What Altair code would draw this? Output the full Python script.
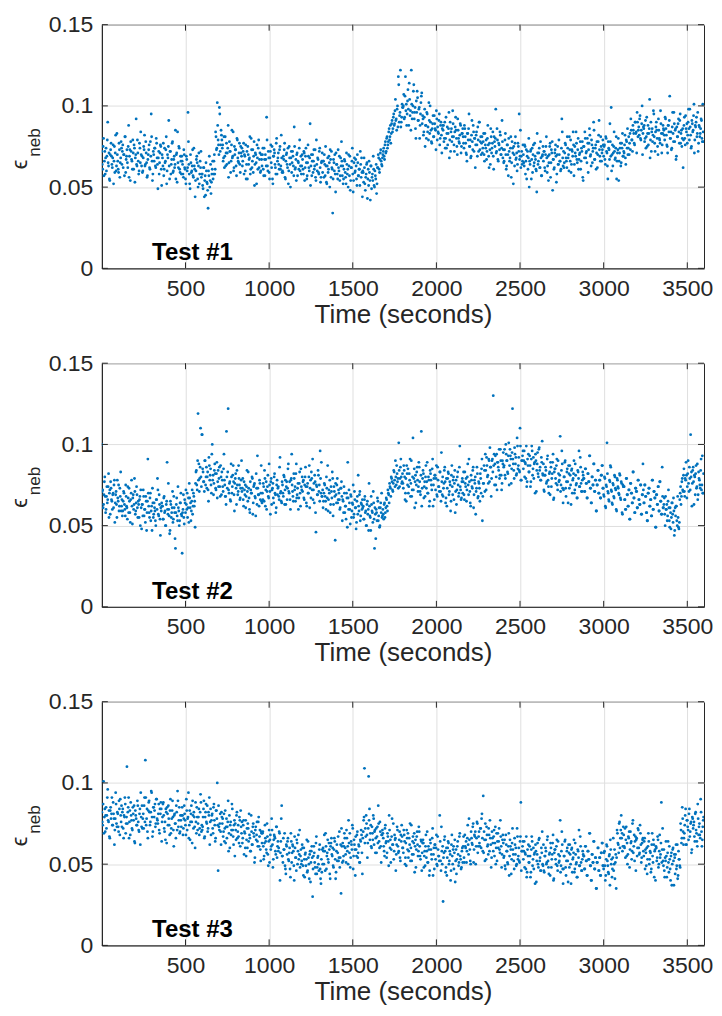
import altair as alt
import pandas as pd

# epsilon_neb, in units of 1e-3.
# "_a" lists: samples at t = 0, 5, 10, ... s ; "_b" lists: samples at t = 2.5, 7.5, ... s
# (each line covers 120 s)
test1_eps_milli_a = [
    72,61,80,66,58,74,69,90,63,55,70,77,64,68,52,75,71,60,83,66,59,73,65,78,
    64,76,70,57,81,67,73,62,88,69,54,72,66,79,61,74,68,92,63,71,58,77,65,70,
    69,60,75,82,64,71,56,67,73,62,78,95,66,58,70,74,63,80,68,49,72,65,76,61,
    70,63,57,74,66,81,60,68,91,55,72,64,77,59,67,62,85,70,53,65,75,61,69,58,
    66,58,73,62,55,69,60,96,64,52,70,59,63,57,74,61,54,67,65,50,71,58,62,56,
    58,49,62,54,45,60,52,37,57,50,64,53,61,55,66,58,84,73,102,79,70,95,76,82,
    74,66,81,69,63,77,71,88,65,72,59,76,68,84,62,70,73,57,79,66,71,64,75,69,
    63,72,58,69,76,64,55,70,67,81,61,73,66,59,78,64,70,52,68,74,62,71,60,67,
    70,61,74,57,67,93,63,72,59,68,76,62,55,69,73,64,58,80,66,71,61,75,63,68,
    60,69,73,56,66,71,62,52,75,64,68,59,72,63,87,61,67,70,57,65,74,60,69,63,
    67,58,71,62,74,55,65,69,60,89,63,57,70,66,61,73,54,64,68,59,72,62,56,66,
    59,66,70,57,63,52,68,61,65,73,56,62,34,67,60,58,71,64,55,62,69,57,63,66,
    63,55,67,59,52,64,61,70,57,48,62,66,58,54,68,60,63,51,65,57,61,72,56,59,
    60,53,62,48,58,65,55,51,59,42,63,56,54,61,50,57,64,52,62,68,59,71,66,63,
    70,74,67,78,72,81,76,84,79,88,83,91,86,95,89,104,92,98,87,113,94,122,90,101,
    99,107,93,118,101,95,110,88,104,97,122,92,100,113,96,86,103,109,91,98,80,95,106,89,
    92,84,98,88,80,95,87,102,83,90,78,86,94,81,89,85,97,79,84,91,76,88,82,86,
    85,78,90,80,74,87,83,96,79,72,86,81,89,76,84,93,80,70,85,78,82,88,75,83,
    81,74,86,77,70,83,79,95,75,68,82,78,88,72,80,76,84,69,79,90,73,81,77,71,
    78,70,83,74,67,80,76,62,73,86,71,77,69,81,75,98,72,79,66,76,84,70,74,78,
    73,66,79,70,63,76,57,72,68,81,65,74,52,70,77,67,71,64,75,95,69,62,72,66,
    70,63,75,66,55,72,68,50,64,73,67,59,76,65,69,61,47,71,66,74,62,68,57,70,
    66,72,60,75,68,63,54,70,77,65,71,48,67,62,73,69,58,75,64,70,66,61,92,68,
    72,65,77,68,62,74,70,81,66,59,73,69,76,64,71,84,67,73,61,70,78,66,72,56,
    75,68,80,71,65,77,73,86,69,63,76,72,90,67,74,61,78,70,82,73,66,75,71,79,
    69,76,64,80,71,55,74,67,78,99,70,63,75,72,68,81,66,73,54,71,77,65,74,69,
    72,76,68,79,74,70,81,77,73,85,79,88,83,76,90,84,96,81,87,92,80,85,100,83,
    86,78,91,81,75,88,83,104,79,72,86,82,95,77,84,90,80,70,85,79,97,83,76,88,
    85,79,92,82,75,88,84,106,80,73,87,83,96,78,86,69,81,89,84,91,77,85,80,62,
    88,80,94,84,77,90,86,98,82,75,89,85,101,79,87,93,83,72,88,81,86,91,78,84,
]
test1_eps_milli_b = [
    64,75,57,72,68,60,79,65,71,54,73,69,62,76,66,59,82,63,70,61,77,56,68,74,
    72,62,70,81,59,69,65,75,56,73,78,67,61,71,76,53,70,64,79,66,60,74,84,63,
    59,68,73,63,78,65,57,70,76,61,69,81,54,72,66,74,62,77,64,68,58,71,75,51,
    68,77,61,65,73,52,70,75,63,72,58,67,78,60,69,64,55,71,84,62,74,59,66,69,
    64,56,70,61,52,67,62,78,58,49,65,60,73,56,63,44,60,69,55,63,52,66,72,58,
    51,62,44,57,65,53,48,60,69,54,46,58,66,58,70,61,81,74,88,76,99,72,85,79,
    76,68,62,81,71,64,74,56,78,72,66,85,69,60,75,73,63,80,68,65,77,59,71,74,
    66,77,70,60,55,72,75,64,68,58,80,62,73,69,51,71,65,76,61,79,67,59,70,63,
    74,57,67,70,63,79,60,68,55,72,65,75,52,69,71,62,77,58,68,64,73,61,82,59,
    59,67,77,55,70,64,74,60,68,50,72,65,69,57,75,62,54,71,66,61,79,63,58,70,
    61,72,54,69,65,57,76,62,68,51,70,66,59,73,63,56,79,60,67,58,74,53,65,71,
    66,56,64,75,53,63,59,69,50,67,72,61,55,65,70,47,64,58,73,60,54,68,78,57,
    52,61,66,56,71,58,50,63,69,54,62,74,47,65,59,67,55,70,57,61,51,64,68,44,
    59,68,52,56,64,43,61,66,54,63,49,58,69,51,60,55,46,62,70,61,67,73,64,68,
    72,69,76,71,80,74,78,86,81,77,89,84,93,88,97,91,85,100,118,90,96,87,93,99,
    100,92,106,97,88,103,98,114,94,85,101,96,109,92,99,80,96,105,91,99,88,102,108,94,
    82,93,75,88,96,84,79,91,100,85,77,89,81,94,86,73,92,87,83,95,80,90,71,88,
    88,80,74,93,83,76,86,68,90,84,78,97,81,72,87,85,75,92,80,77,89,71,83,86,
    77,88,81,71,66,83,86,75,79,69,91,73,84,80,62,82,76,87,72,90,78,70,81,74,
    83,66,76,79,72,88,69,77,64,81,74,84,61,78,80,71,86,67,77,73,82,70,91,68,
    65,73,83,61,76,70,80,66,74,56,78,71,75,63,81,68,60,77,72,67,85,69,64,76,
    65,76,58,73,69,61,80,66,72,55,74,70,63,77,67,60,83,64,71,62,78,57,69,75,
    72,62,70,81,59,69,65,75,56,73,78,67,61,71,76,53,70,64,79,66,60,74,84,63,
    62,71,76,66,81,68,60,73,79,64,72,84,57,75,69,77,65,80,67,71,61,74,78,54,
    75,84,68,72,80,59,77,82,70,79,65,74,85,67,76,71,62,78,91,69,81,66,73,76,
    75,67,81,72,63,78,73,89,69,60,76,71,84,67,74,55,71,80,66,74,63,77,83,69,
    71,82,64,78,86,74,70,83,92,79,72,85,77,90,83,71,90,85,82,94,79,89,70,87,
    88,80,74,93,83,76,86,68,90,84,78,97,81,72,87,85,75,92,80,77,89,71,83,86,
    82,93,86,76,71,88,91,80,84,74,96,78,89,85,67,87,81,92,77,95,83,75,86,79,
    93,76,86,89,82,98,79,87,74,91,84,94,71,88,90,81,96,77,87,83,92,80,101,78,
]

test2_eps_milli_a = [
    100,72,63,77,68,60,74,66,82,70,57,73,65,69,61,78,64,71,55,67,75,62,68,59,
    66,59,71,63,56,68,61,74,58,65,52,70,62,67,60,79,57,64,69,55,63,66,50,61,
    63,56,68,60,52,65,58,91,62,55,70,59,47,64,57,61,53,66,60,72,56,63,44,59,
    62,54,67,58,50,63,89,57,60,45,65,55,61,52,68,58,36,63,56,74,59,53,64,57,
    33,60,55,66,58,63,70,61,52,67,64,59,72,62,68,65,76,84,72,119,88,79,110,74,
    106,83,77,90,75,86,80,72,92,78,85,70,100,81,76,88,73,82,67,84,79,74,87,69,
    78,71,94,75,68,108,73,122,70,77,65,80,74,87,69,76,82,63,75,71,79,66,73,90,
    73,66,77,69,61,74,71,83,67,58,72,70,79,64,75,68,56,73,93,69,62,76,70,65,
    70,76,65,79,72,60,74,68,88,71,77,63,73,67,80,70,58,75,69,74,66,92,71,64,
    75,68,80,72,63,77,73,88,70,66,78,94,71,65,79,74,82,67,73,60,76,70,85,72,
    71,78,66,80,74,62,76,70,87,73,67,79,91,72,64,77,46,74,69,81,75,96,70,68,
    72,65,76,68,60,73,87,66,70,58,74,67,79,63,71,41,69,75,64,72,66,61,73,68,
    66,58,70,62,54,67,89,60,64,51,68,59,63,55,71,61,48,65,57,62,69,53,64,60,
    61,54,66,58,50,63,57,47,62,55,68,59,52,64,36,57,60,53,65,56,49,61,58,55,
    60,54,64,58,67,62,72,69,76,73,80,77,71,84,78,90,75,82,79,101,74,86,80,77,
    76,87,80,70,65,82,85,74,78,68,90,72,104,79,61,81,75,86,71,89,77,69,108,73,
    84,67,77,80,73,89,70,78,65,82,75,85,62,79,81,72,87,68,78,74,83,71,95,69,
    68,76,86,64,79,73,83,69,77,59,81,74,78,66,84,71,63,80,75,70,99,72,67,79,
    77,69,83,74,65,80,75,91,71,62,78,73,86,69,76,57,73,82,68,76,65,79,85,53,
    76,87,71,84,92,80,76,90,98,86,79,91,130,94,88,75,94,89,86,97,81,90,72,90,
    95,87,81,100,90,83,93,75,97,91,85,122,88,79,94,92,82,99,87,84,110,78,90,93,
    85,96,89,79,74,91,94,83,87,77,99,81,92,88,70,90,84,95,80,98,86,78,89,82,
    88,71,81,84,77,93,74,82,69,86,79,89,66,83,85,76,91,72,82,78,105,75,96,73,
    72,80,90,68,83,77,87,73,81,63,85,78,82,70,88,75,67,84,79,74,92,76,71,83,
    79,71,85,76,67,82,77,93,73,64,80,75,88,71,78,59,75,84,70,78,67,81,87,73,
    69,80,62,75,101,71,66,78,87,72,64,76,68,81,73,60,79,74,70,82,67,77,58,75,
    74,66,60,79,69,62,72,54,76,70,64,83,67,58,73,71,61,78,66,63,75,57,69,88,
    64,75,68,58,53,70,73,62,66,56,78,60,71,67,49,69,63,74,59,77,65,57,86,61,
    63,57,68,60,53,65,61,49,58,55,64,52,59,47,56,62,50,55,48,66,74,68,79,71,
    85,68,78,81,74,90,71,79,106,83,76,86,63,80,82,73,88,69,79,75,84,72,93,70,
]
test2_eps_milli_b = [
    71,61,69,80,58,68,64,74,55,72,77,66,60,70,75,52,69,63,78,65,59,73,83,62,
    56,65,70,60,75,62,54,67,73,58,66,78,51,69,63,71,59,74,61,65,55,68,72,48,
    63,72,56,60,68,47,65,70,58,67,53,62,73,55,64,59,50,66,79,57,69,54,61,64,
    62,54,68,59,50,65,60,76,56,47,63,58,71,54,61,42,58,67,53,61,50,64,70,56,
    58,69,51,64,72,60,55,67,76,61,53,65,57,70,62,49,83,75,90,78,71,86,80,106,
    85,77,71,90,80,73,83,65,87,81,75,94,78,69,84,82,72,89,77,74,86,68,80,83,
    74,85,78,68,63,80,83,72,76,66,88,70,81,77,59,79,73,84,69,87,75,67,78,71,
    79,62,72,75,68,84,65,73,60,77,70,80,57,74,76,67,82,63,73,69,78,66,87,64,
    66,74,84,62,77,71,81,67,75,57,79,72,76,64,82,69,61,78,73,68,86,70,65,77,
    70,81,63,78,74,66,85,71,77,60,79,75,68,82,72,65,88,69,76,67,83,62,74,80,
    77,67,75,86,64,74,70,80,61,78,83,72,66,76,81,58,75,69,84,71,65,79,89,68,
    61,70,75,65,80,67,59,72,78,63,71,83,56,74,68,76,64,79,66,70,60,73,77,53,
    65,74,58,62,70,49,67,72,60,69,55,64,75,57,66,61,52,68,81,59,71,56,63,66,
    62,54,68,59,50,65,60,76,56,47,63,58,71,54,61,42,58,67,53,61,50,64,70,56,
    57,63,55,61,66,59,70,64,74,68,79,72,76,83,74,80,87,77,73,84,79,91,76,82,
    73,84,66,79,87,75,70,82,91,76,68,80,72,85,77,64,83,78,74,86,71,81,62,79,
    82,74,68,87,77,70,80,62,84,78,72,91,75,66,81,79,69,86,74,71,83,65,77,80,
    73,84,77,67,62,79,82,71,75,65,87,69,80,76,58,78,72,83,68,86,74,66,77,70,
    83,66,76,79,72,88,69,77,64,81,74,84,61,78,80,71,86,67,77,73,82,70,91,68,
    76,84,94,72,87,81,91,77,86,68,90,83,87,75,93,80,72,89,84,79,97,81,76,88,
    86,97,79,94,90,82,101,87,93,76,95,91,84,98,88,81,104,85,92,83,99,78,90,96,
    90,80,88,99,77,87,83,93,74,91,96,85,79,89,94,71,88,82,97,84,78,92,102,81,
    72,81,86,76,91,78,70,83,89,74,82,94,67,85,79,87,75,90,77,81,71,84,88,64,
    80,89,73,77,85,64,82,87,75,84,70,79,90,72,81,76,67,83,96,74,86,71,78,81,
    79,71,85,76,67,82,77,93,73,64,80,75,88,71,78,59,75,84,70,78,67,81,87,73,
    68,79,61,74,82,70,65,77,86,71,63,75,67,80,72,59,78,73,69,81,66,76,57,74,
    74,66,60,79,69,62,72,54,76,70,64,83,67,58,73,71,61,78,66,63,75,57,69,72,
    64,75,68,58,53,70,73,62,66,56,78,60,71,67,49,69,63,74,59,77,65,57,68,61,
    67,50,60,63,56,72,53,61,48,64,57,67,44,61,62,53,68,49,52,70,63,77,72,81,
    71,79,89,67,82,76,86,72,80,62,84,77,81,69,87,74,66,83,78,73,91,75,70,82,
]

test3_eps_milli_a = [
    82,74,101,79,70,85,80,96,76,67,83,78,91,74,81,62,78,87,73,81,70,84,90,76,
    73,84,66,79,87,75,110,82,91,76,68,80,72,85,77,64,83,78,74,86,71,81,62,79,
    86,78,72,91,114,74,84,66,88,82,76,95,79,70,85,83,73,90,78,75,87,69,81,84,
    76,87,80,70,65,82,85,74,78,68,90,72,83,79,61,81,75,86,71,89,77,69,80,73,
    85,68,78,81,74,90,71,79,66,83,76,86,63,80,82,73,88,69,79,75,84,72,93,70,
    71,79,89,67,82,76,86,72,80,62,84,77,81,69,87,74,66,83,100,46,73,75,70,82,
    75,67,81,72,63,78,73,89,69,60,76,71,84,67,74,55,71,80,66,74,63,77,83,69,
    63,74,56,69,77,65,60,72,81,66,58,70,62,75,67,54,73,68,64,76,61,71,52,69,
    69,61,55,74,64,57,67,49,71,65,59,78,62,53,68,66,56,73,61,58,70,40,64,86,
    55,66,59,49,44,61,64,53,57,47,69,51,62,58,40,60,54,65,50,68,56,48,59,52,
    60,43,53,56,49,65,46,54,41,58,51,61,30,55,57,48,63,44,54,50,59,47,38,45,
    50,58,68,46,61,55,65,51,59,41,63,56,60,48,66,53,45,62,57,52,70,54,32,61,
    63,55,69,60,51,66,61,77,57,48,64,59,72,55,62,43,59,68,54,62,51,65,71,57,
    66,77,109,72,80,68,63,104,84,69,61,73,65,78,70,57,72,67,63,75,60,70,51,68,
    69,61,55,74,64,57,67,49,71,65,59,78,62,53,68,66,56,73,61,58,70,52,64,67,
    60,71,64,54,49,66,69,58,62,52,74,56,67,63,45,65,59,70,55,73,61,53,64,57,
    65,48,58,61,54,70,51,59,46,63,56,66,43,60,62,53,68,49,59,55,80,52,73,50,
    27,57,67,45,60,54,64,50,58,40,62,55,59,47,65,52,44,61,56,51,69,53,48,60,
    61,54,68,60,51,66,62,78,59,50,66,62,75,59,67,50,66,75,61,70,61,72,78,66,
    92,70,52,65,73,61,56,68,77,62,54,66,58,71,63,50,69,64,60,72,57,67,48,65,
    63,55,49,68,58,51,61,43,65,59,53,72,56,47,62,60,50,67,55,52,64,88,58,61,
    53,64,57,47,42,59,62,51,55,45,67,49,60,56,38,58,52,63,48,66,54,46,57,50,
    62,45,55,58,51,67,48,56,43,60,53,63,40,57,59,50,65,46,56,52,77,49,70,47,
    47,55,65,43,58,52,62,48,56,38,60,53,57,45,63,50,42,59,54,49,67,51,46,58,
    55,47,61,52,43,58,53,69,49,40,56,51,64,47,54,35,51,60,46,54,43,57,63,49,
    47,58,40,53,61,49,44,56,65,50,42,54,46,59,51,35,71,63,57,76,66,80,69,61,
    68,60,54,73,63,56,66,48,70,64,58,77,61,52,67,65,55,72,60,57,69,51,63,66,
    55,66,59,49,44,61,64,53,57,47,69,51,62,58,40,60,54,65,50,68,56,88,59,52,
    59,42,52,55,48,64,45,53,40,57,50,60,37,54,56,47,62,43,53,49,75,63,85,70,
    66,74,84,62,77,71,81,67,75,57,79,72,76,64,82,69,61,78,73,68,90,70,65,77,
]
test3_eps_milli_b = [
    76,87,69,84,80,72,91,77,83,66,85,81,74,88,78,71,94,75,82,73,89,68,80,86,
    82,72,80,91,69,79,75,85,66,83,88,77,71,81,86,63,80,74,89,76,70,84,94,73,
    72,81,86,76,91,78,70,83,89,74,82,94,67,85,79,87,75,90,77,81,71,84,88,64,
    79,88,72,76,84,63,81,86,74,83,69,78,89,71,80,75,66,82,95,73,85,70,77,80,
    80,72,86,77,68,83,78,94,74,65,81,76,89,72,79,60,76,85,71,79,68,82,88,74,
    73,84,66,79,87,75,70,82,91,76,68,80,72,85,77,64,83,78,74,86,71,81,62,79,
    78,70,64,83,73,66,76,58,80,74,68,87,71,62,77,75,65,82,70,67,79,61,73,76,
    66,77,70,60,55,72,75,64,68,58,80,62,73,69,51,71,65,76,61,79,67,59,70,63,
    70,53,63,66,59,75,56,64,51,68,61,71,48,65,67,58,73,54,64,60,69,57,78,55,
    51,59,69,47,62,56,66,52,60,42,64,57,61,49,67,54,46,63,58,53,71,55,50,62,
    49,60,42,57,53,45,64,50,56,39,58,54,47,61,51,44,67,48,55,46,62,41,53,59,
    60,50,58,69,47,57,53,63,44,61,66,55,49,59,64,41,58,52,67,54,48,62,72,51,
    52,61,66,56,71,58,50,63,69,54,62,74,47,65,59,67,55,70,57,61,51,64,68,44,
    70,79,63,67,75,54,72,77,65,74,60,69,80,62,71,66,57,73,86,64,76,61,68,71,
    66,58,72,63,54,69,64,80,60,51,67,62,75,58,65,46,62,71,57,65,54,68,74,60,
    57,68,50,63,71,59,54,66,75,60,52,64,56,69,61,48,67,62,58,70,55,65,46,63,
    63,55,49,68,58,51,61,43,65,59,53,72,56,47,62,60,50,67,55,52,64,46,58,61,
    54,65,58,48,43,60,63,52,56,46,68,50,61,57,39,59,53,64,49,67,55,47,58,51,
    67,51,61,64,58,74,56,65,52,70,63,73,51,68,70,61,76,57,67,63,72,60,81,58,
    57,65,75,53,68,62,72,58,66,48,70,63,67,55,73,60,52,69,64,59,77,61,56,68,
    54,65,47,62,58,50,69,55,61,44,63,59,52,66,56,49,72,53,60,51,67,46,58,64,
    58,48,56,67,45,55,51,61,42,59,64,53,47,57,62,39,56,50,65,52,46,60,70,49,
    46,55,60,50,65,52,44,57,63,48,56,68,41,59,53,61,49,64,51,55,45,58,62,38,
    55,64,48,52,60,39,57,62,50,59,45,54,65,47,56,51,42,58,71,49,61,46,53,56,
    55,47,61,52,43,58,53,69,49,40,56,51,64,47,54,35,51,60,46,54,43,57,63,49,
    57,49,43,62,52,45,55,37,59,53,47,66,50,41,56,54,69,62,75,60,71,66,58,73,
    61,72,65,55,50,67,70,59,63,53,75,57,68,64,46,66,60,71,56,74,62,54,65,58,
    64,47,57,60,53,69,50,58,45,62,55,65,42,59,61,52,67,48,58,54,63,51,72,49,
    46,54,64,42,57,51,61,47,55,37,59,52,56,44,62,49,41,58,53,48,71,66,78,62,
    69,80,62,77,73,65,84,70,76,59,78,74,67,81,71,64,87,68,75,66,82,61,73,79,
]

sample_step_s = 5.0
offset_b_s = 2.5
x_ticks = [500, 1000, 1500, 2000, 2500, 3000, 3500]
y_ticks = [0, 0.05, 0.1, 0.15]
x_domain = [0, 3600]
y_domain = [0, 0.15]
panel_labels = ["Test #1", "Test #2", "Test #3"]
label_t, label_eps = 300, 0.005

W, H = 603, 244
TXT = "#262626"
FONT = "Liberation Sans"
BLUE = "#0072BD"
TICK = 6


def panel(vals_a, vals_b, label):
    t = [i * sample_step_s for i in range(len(vals_a))] + \
        [offset_b_s + i * sample_step_s for i in range(len(vals_b))]
    e = [v / 1000 for v in vals_a] + [v / 1000 for v in vals_b]
    df = pd.DataFrame({"t": t, "eps": e})
    xs = alt.Scale(domain=x_domain, nice=False, zero=False)
    ys = alt.Scale(domain=y_domain, nice=False)
    xa = alt.Axis(values=x_ticks, format="d", title="Time (seconds)", grid=True)
    ya = alt.Axis(values=y_ticks, format=".2~f", title=None, grid=True)
    X = alt.X("t:Q", scale=xs, axis=xa)
    Y = alt.Y("eps:Q", scale=ys, axis=ya)
    pts = alt.Chart(df).mark_circle(size=8, color=BLUE, opacity=1, clip=True).encode(x=X, y=Y)
    xt = pd.DataFrame({"t": x_ticks})
    yt = pd.DataFrame({"eps": y_ticks})
    bt = alt.Chart(xt).mark_rule(color=TXT).encode(x=X, y=alt.value(H), y2=alt.value(H - TICK))
    tt = alt.Chart(xt).mark_rule(color=TXT).encode(x=X, y=alt.value(0), y2=alt.value(TICK))
    lt = alt.Chart(yt).mark_rule(color=TXT).encode(y=Y, x=alt.value(0), x2=alt.value(TICK))
    rt = alt.Chart(yt).mark_rule(color=TXT).encode(y=Y, x=alt.value(W), x2=alt.value(W - TICK))
    lab = alt.Chart(pd.DataFrame({"t": [label_t], "eps": [label_eps], "label": [label]})).mark_text(
        align="left", baseline="alphabetic", font=FONT, fontSize=24, fontWeight="bold", color="#000000"
    ).encode(x=X, y=Y, text="label:N")
    one = pd.DataFrame({"k": [0]})
    eps_t = alt.Chart(one).mark_text(
        angle=270, align="center", baseline="alphabetic", font=FONT + ", DejaVu Sans", fontSize=22, color=TXT
    ).encode(x=alt.value(-75), y=alt.value(140), text=alt.value("\u03f5"))
    neb_t = alt.Chart(one).mark_text(
        angle=270, align="center", baseline="alphabetic", font=FONT, fontSize=17, color=TXT
    ).encode(x=alt.value(-62), y=alt.value(118), text=alt.value("neb"))
    return alt.layer(pts, bt, tt, lt, rt, lab, eps_t, neb_t).properties(width=W, height=H)


chart = alt.vconcat(
    panel(test1_eps_milli_a, test1_eps_milli_b, panel_labels[0]),
    panel(test2_eps_milli_a, test2_eps_milli_b, panel_labels[1]),
    panel(test3_eps_milli_a, test3_eps_milli_b, panel_labels[2]),
    spacing=23,
).properties(
    padding={"left": 0, "right": 0, "top": 4, "bottom": 0}
).configure_axis(
    labelFont=FONT, labelFontSize=23, labelColor=TXT,
    titleFont=FONT, titleFontSize=26, titleColor=TXT, titleFontWeight="normal",
    domainColor=TXT, domainWidth=1, gridColor="#dfdfdf", gridWidth=1,
    ticks=False, tickSize=0, labelPadding=10, labelFlush=False,
).configure_axisY(labelPadding=9).configure_axisX(titlePadding=1, labelPadding=9).configure_view(
    stroke=TXT, strokeWidth=1
)

chart.save("out.html", embed_options={"renderer": "svg", "actions": False})
